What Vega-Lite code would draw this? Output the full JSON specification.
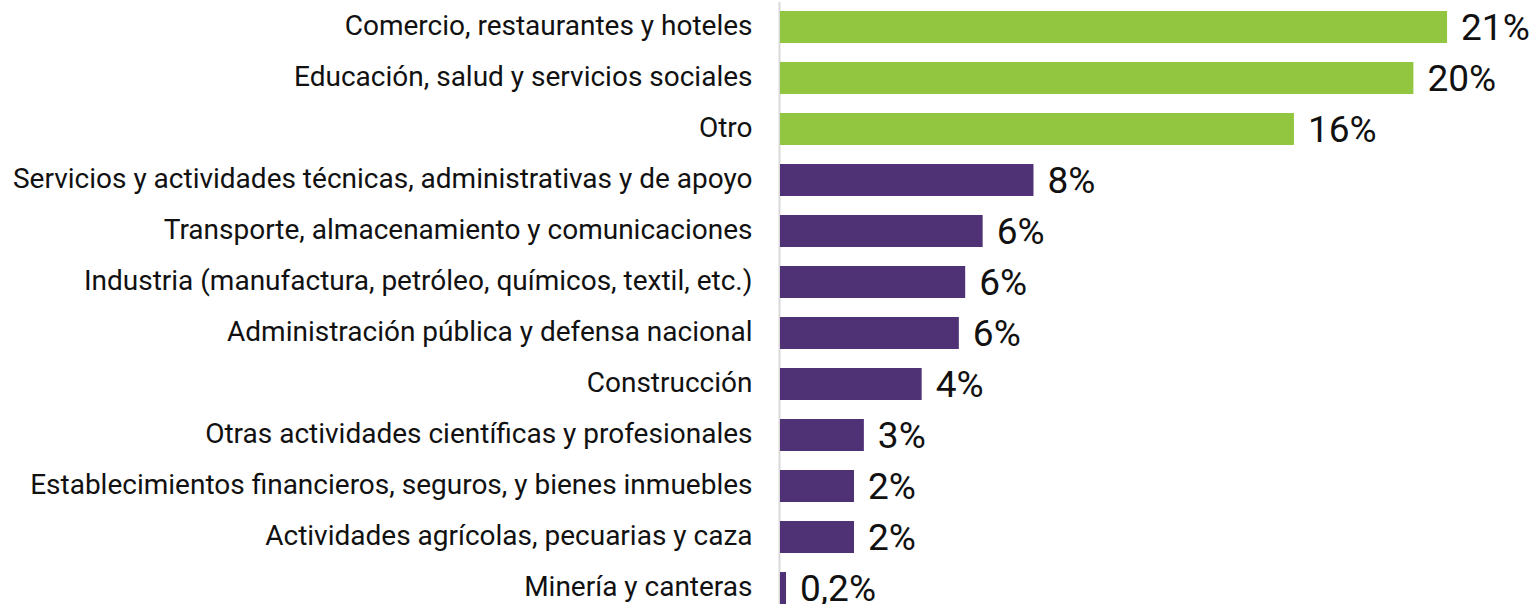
{
  "$schema": "https://vega.github.io/schema/vega-lite/v6.json",
  "autosize": {"type": "none"},
  "padding": {"left": 779, "top": 1.5, "right": 0, "bottom": 0},
  "width": 756,
  "height": 612,
  "background": "white",
  "data": {
    "values": [
      {"sector": "Comercio, restaurantes y hoteles", "valor": 21.0, "etiqueta": "21%", "grupo": "top"},
      {"sector": "Educación, salud y servicios sociales", "valor": 19.94, "etiqueta": "20%", "grupo": "top"},
      {"sector": "Otro", "valor": 16.18, "etiqueta": "16%", "grupo": "top"},
      {"sector": "Servicios y actividades técnicas, administrativas y de apoyo", "valor": 7.98, "etiqueta": "8%", "grupo": "rest"},
      {"sector": "Transporte, almacenamiento y comunicaciones", "valor": 6.38, "etiqueta": "6%", "grupo": "rest"},
      {"sector": "Industria (manufactura, petróleo, químicos, textil, etc.)", "valor": 5.83, "etiqueta": "6%", "grupo": "rest"},
      {"sector": "Administración pública y defensa nacional", "valor": 5.63, "etiqueta": "6%", "grupo": "rest"},
      {"sector": "Construcción", "valor": 4.46, "etiqueta": "4%", "grupo": "rest"},
      {"sector": "Otras actividades científicas y profesionales", "valor": 2.64, "etiqueta": "3%", "grupo": "rest"},
      {"sector": "Establecimientos financieros, seguros, y bienes inmuebles", "valor": 2.33, "etiqueta": "2%", "grupo": "rest"},
      {"sector": "Actividades agrícolas, pecuarias y caza", "valor": 2.33, "etiqueta": "2%", "grupo": "rest"},
      {"sector": "Minería y canteras", "valor": 0.19, "etiqueta": "0,2%", "grupo": "rest"}
    ]
  },
  "encoding": {
    "y": {
      "field": "sector",
      "type": "nominal",
      "sort": null,
      "scale": {"paddingInner": 0.373, "paddingOuter": 0.186},
      "axis": {
        "title": null,
        "ticks": false,
        "grid": false,
        "domainColor": "#d9d9d9",
        "domainWidth": 2,
        "labelFont": "Roboto",
        "labelFontSize": 28,
        "labelColor": "#111111",
        "labelPadding": 27,
        "labelLimit": 0
      }
    },
    "x": {
      "field": "valor",
      "type": "quantitative",
      "scale": {"domain": [0, 23.8], "nice": false, "zero": true},
      "axis": null
    }
  },
  "layer": [
    {
      "mark": {"type": "bar", "xOffset": 1},
      "encoding": {
        "color": {
          "field": "grupo",
          "type": "nominal",
          "scale": {"domain": ["top", "rest"], "range": ["#92c540", "#4f3176"]},
          "legend": null
        }
      }
    },
    {
      "mark": {"type": "text", "align": "left", "baseline": "middle", "dx": 15, "dy": 2, "font": "Roboto", "fontSize": 37, "color": "#111111"},
      "encoding": {"text": {"field": "etiqueta"}}
    }
  ],
  "config": {"view": {"stroke": null}}
}
